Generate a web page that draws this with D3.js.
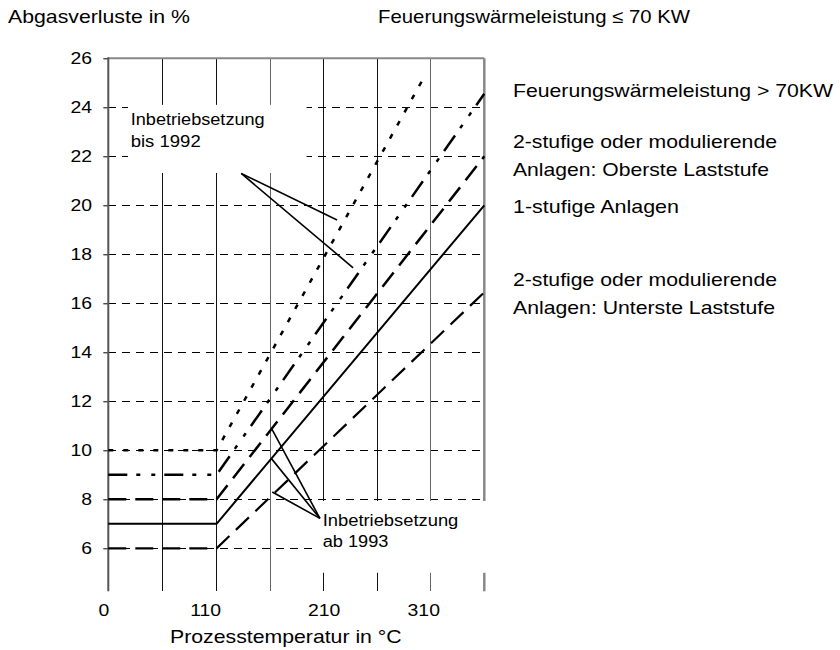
<!DOCTYPE html>
<html>
<head>
<meta charset="utf-8">
<script src="https://cdn.jsdelivr.net/npm/d3@7"></script>
<style>
    body { margin: 0; background: #fff; }
    text { font-family: Arial, "Liberation Sans", sans-serif; fill: #000; }
</style>
</head>
<body>
<div id="chart"></div>
<script>
// ---- data ----
const xTickValues = [0, 110, 210, 310];
const xTickLabels = ["0", "110", "210", "310"];
const xGridValues = [55, 110, 160, 210, 260, 310];
const yTickValues = [6, 8, 10, 12, 14, 16, 18, 20, 22, 24, 26];

// each limit line: flat up to 110 °C, then rising
const seriesNames = ["<= 70 KW", "Oberste Laststufe", "1-stufig", "mittel", "Unterste Laststufe"];
const kinkTemp = 110;
const startLoss = [10, 9, 8, 7, 6];
const endTemp = [304, 360, 360, 360, 360];
const endLoss = [25.25, 24.55, 22, 20, 16.45];

// annotation pointers (°C, %)
const bis1992Apex = [133, 21.3];
const bis1992Tips = [[222.5, 19.4], [237.5, 17.45]];
const ab1993Apex = [206.5, 7.22];
const ab1993Tips = [[161.4, 10.88], [161.4, 9.65], [162, 8.3]];

const legendLines = [
    "Feuerungswärmeleistung > 70KW",
    "2-stufige oder modulierende",
    "Anlagen: Oberste Laststufe",
    "1-stufige Anlagen",
    "2-stufige oder modulierende",
    "Anlagen: Unterste Laststufe"
];

// ---- layout / styles ----
const STRETCH = 1.14; // text in the picture is a bit wider than normal Arial
const margin = { top: 58.3, left: 108.3 };
const width = 376, height = 490;

const dashStyles = ["5,10", "19,9,4,11,4,9", "18,9", null, "18,9"];
const lineWidths = [2.5, 2.5, 2.5, 2, 2.2];
const labelShift = [-5, -11.5, 0, -7.5];
const legendY = [97.3, 148.3, 176, 213.3, 286, 314];
const legendW = [320, 264, 256, 166, 264, 262];

const svg = d3.select("#chart").append("svg")
    .attr("width", 840)
    .attr("height", 650);

const g = svg.append("g")
    .attr("transform", "translate(" + margin.left + "," + margin.top + ")");

// x: Excel style axis, 0..110 spans the same as 110..210
const x = d3.scaleLinear()
    .domain([0, 110, 360])
    .range([0, 108.3, width]);

const y = d3.scaleLinear()
    .domain([6, 26])
    .range([height, 0]);

const yBottom = y(4.25);

// stretch a text to a given width (or by STRETCH)
function fitText(sel, w) {
    sel.each(function() {
        const len = w || this.getComputedTextLength() * STRETCH;
        d3.select(this)
            .attr("textLength", len)
            .attr("lengthAdjust", "spacingAndGlyphs");
    });
}

// horizontal dashed grid
g.selectAll(".hgrid")
    .data(yTickValues.filter(d => d < 26))
    .join("line")
    .attr("class", "hgrid")
    .attr("x1", 0)
    .attr("x2", width)
    .attr("y1", d => y(d))
    .attr("y2", d => y(d))
    .attr("stroke", "#000")
    .attr("stroke-width", 1)
    .attr("stroke-dasharray", "8,6")
    .attr("shape-rendering", "crispEdges");

// vertical grid
g.selectAll(".vgrid")
    .data(xGridValues)
    .join("line")
    .attr("class", "vgrid")
    .attr("x1", d => x(d))
    .attr("x2", d => x(d))
    .attr("y1", 0)
    .attr("y2", yBottom)
    .attr("stroke", (d, i) => (i === 2 || i === 5) ? "#666" : "#111")
    .attr("stroke-width", 1)
    .attr("shape-rendering", "crispEdges");

// frame: top and right in grey
g.append("line")
    .attr("x1", 0).attr("x2", width)
    .attr("y1", 0).attr("y2", 0)
    .attr("stroke", "#888").attr("stroke-width", 2);

g.append("line")
    .attr("x1", width).attr("x2", width)
    .attr("y1", 0).attr("y2", yBottom)
    .attr("stroke", "#888").attr("stroke-width", 2.5);

// white label boxes hide the grid
g.append("rect")
    .attr("x", x(20)).attr("y", y(24.1))
    .attr("width", x(194) - x(20))
    .attr("height", y(21.32) - y(24.1))
    .attr("fill", "#fff");

g.append("rect")
    .attr("x", x(203)).attr("y", y(7.93))
    .attr("width", x(366) - x(203))
    .attr("height", y(5) - y(7.93))
    .attr("fill", "#fff");

// y axis
const yAxis = d3.axisLeft(y)
    .tickValues(yTickValues)
    .tickSize(5)
    .tickPadding(11.3);

const yAxisG = g.append("g").call(yAxis);
yAxisG.select(".domain").remove();
yAxisG.selectAll("line").attr("stroke", "#000");
yAxisG.selectAll("text")
    .style("font-size", "17px")
    .attr("font-family", null);

g.append("line")
    .attr("x1", 0).attr("x2", 0)
    .attr("y1", -1).attr("y2", yBottom)
    .attr("stroke", "#555").attr("stroke-width", 2);

// x axis labels only
const xAxis = d3.axisBottom(x)
    .tickValues(xTickValues)
    .tickFormat((d, i) => xTickLabels[i])
    .tickSize(0)
    .tickPadding(13);

const xAxisG = g.append("g")
    .attr("transform", "translate(0," + yBottom + ")")
    .call(xAxis);
xAxisG.select(".domain").remove();
xAxisG.selectAll("text")
    .attr("dx", (d, i) => labelShift[i])
    .style("font-size", "17px")
    .attr("font-family", null);

fitText(yAxisG.selectAll("text"));
fitText(xAxisG.selectAll("text"));

// limit lines
const seriesData = seriesNames.map((name, i) => ({
    name: name,
    points: [[0, startLoss[i]], [kinkTemp, startLoss[i]], [endTemp[i], endLoss[i]]],
    dash: dashStyles[i],
    w: lineWidths[i]
}));

const line = d3.line()
    .x(d => x(d[0]))
    .y(d => y(d[1]));

g.selectAll(".limit")
    .data(seriesData)
    .join("path")
    .attr("class", "limit")
    .attr("d", d => line(d.points))
    .attr("fill", "none")
    .attr("stroke", "#000")
    .attr("stroke-width", d => d.w)
    .attr("stroke-dasharray", d => d.dash);

// pointer lines
const pointers = bis1992Tips.map(t => [bis1992Apex, t])
    .concat(ab1993Tips.map(t => [ab1993Apex, t]));

g.selectAll(".pointer")
    .data(pointers)
    .join("path")
    .attr("class", "pointer")
    .attr("d", d => line(d))
    .attr("stroke", "#000")
    .attr("stroke-width", 1.6)
    .attr("fill", "none");

// annotation texts
svg.append("text").attr("x", 130.7).attr("y", 125).style("font-size", "16px")
    .text("Inbetriebsetzung").call(fitText, 134);
svg.append("text").attr("x", 130.7).attr("y", 147.3).style("font-size", "16px")
    .text("bis 1992").call(fitText, 70);

svg.append("text").attr("x", 322.7).attr("y", 526).style("font-size", "16px")
    .text("Inbetriebsetzung").call(fitText, 135.6);
svg.append("text").attr("x", 322.7).attr("y", 546.7).style("font-size", "16px")
    .text("ab 1993").call(fitText, 65.7);

// titles
svg.append("text").attr("x", 8).attr("y", 23).style("font-size", "18.5px")
    .text("Abgasverluste in %").call(fitText, 182);
svg.append("text").attr("x", 378).attr("y", 23.3).style("font-size", "18.5px")
    .text("Feuerungswärmeleistung ≤ 70 KW").call(fitText, 312);

svg.append("text")
    .attr("x", 170).attr("y", 643)
    .style("font-size", "18.5px")
    .text("Prozesstemperatur in °C")
    .call(fitText, 231.7);

// legend text on the right
svg.selectAll(".legendText")
    .data(legendLines)
    .join("text")
    .attr("class", "legendText")
    .attr("x", 513)
    .attr("y", (d, i) => legendY[i])
    .style("font-size", "18.5px")
    .text(d => d)
    .each(function(d, i) { fitText(d3.select(this), legendW[i]); });
</script>
</body>
</html>
